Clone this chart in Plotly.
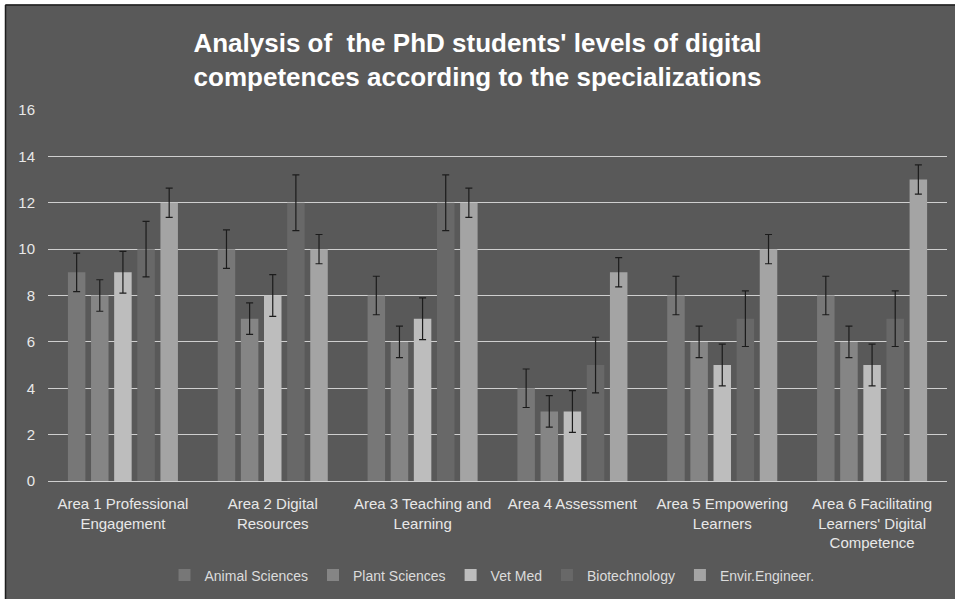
import plotly.graph_objects as go

categories = [
    "Area 1 Professional<br>Engagement",
    "Area 2 Digital<br>Resources",
    "Area 3 Teaching and<br>Learning",
    "Area 4 Assessment",
    "Area 5 Empowering<br>Learners",
    "Area 6 Facilitating<br>Learners' Digital<br>Competence",
]
series_names = ["Animal Sciences", "Plant Sciences", "Vet Med", "Biotechnology", "Envir.Engineer."]
animal_sciences = [9, 10, 8, 4, 8, 8]
plant_sciences = [8, 7, 6, 3, 6, 6]
vet_med = [9, 8, 7, 3, 5, 5]
biotechnology = [10, 12, 12, 5, 7, 7]
envir_engineer = [12, 10, 12, 9, 10, 13]
err_animal = [0.83, 0.83, 0.83, 0.83, 0.83, 0.83]
err_plant = [0.68, 0.68, 0.68, 0.68, 0.68, 0.68]
err_vet = [0.9, 0.9, 0.9, 0.9, 0.9, 0.9]
err_biotech = [1.2, 1.2, 1.2, 1.2, 1.2, 1.2]
err_envir = [0.63, 0.63, 0.63, 0.63, 0.63, 0.63]
y_ticks = [0, 2, 4, 6, 8, 10, 12, 14, 16]

values = [animal_sciences, plant_sciences, vet_med, biotechnology, envir_engineer]
errors = [err_animal, err_plant, err_vet, err_biotech, err_envir]
colors = ["#777777", "#858585", "#bdbdbd", "#686868", "#a4a4a4"]

W, H = 955, 599
L, R, T, B = 48, 8, 110, 116
pw, ph = W - L - R, H - T - B

def px_x(p):
    return (p - L) / pw

def px_y(q):
    return (H - B - q) / ph

FONT = "Liberation Sans, Arial, sans-serif"

fig = go.Figure()
for name, vals, err, col in zip(series_names, values, errors, colors):
    fig.add_trace(go.Bar(
        x=categories, y=vals, name=name, marker=dict(color=col, line=dict(width=0)),
        error_y=dict(type="data", array=err, visible=True, color="#1c1c1c", thickness=1.2, width=3.5),
    ))

fig.update_layout(
    width=W, height=H,
    margin=dict(l=L, r=R, t=T, b=B),
    paper_bgcolor="#595959",
    plot_bgcolor="rgba(0,0,0,0)",
    barmode="group", bargap=0.228, bargroupgap=0.243,
    title=dict(
        text="<b>Analysis of  the PhD students' levels of digital<br>competences according to the specializations</b>",
        x=0.5, xanchor="center", xref="container",
        y=1 - 52 / H, yanchor="middle", yref="container",
        font=dict(family=FONT, size=26, color="#ffffff"),
    ),
    xaxis=dict(
        showgrid=False, showline=False, zeroline=False, ticks="",
        tickfont=dict(family=FONT, size=15, color="#e8e8e8"),
        tickangle=0, ticklabelstandoff=12,
    ),
    yaxis=dict(
        range=[0, 16], tickvals=y_ticks, showgrid=True, gridcolor="#cfcfcf", gridwidth=1.2,
        zeroline=True, zerolinecolor="#cfcfcf", zerolinewidth=1.2,
        showline=False, ticks="", ticklabelstandoff=12,
        tickfont=dict(family=FONT, size=15, color="#e8e8e8"),
    ),
    legend=dict(
        orientation="h", x=px_x(492), xanchor="center", y=px_y(578), yanchor="middle",
        font=dict(family=FONT, size=14, color="#dcdcdc"), itemwidth=30,
        bgcolor="rgba(0,0,0,0)", traceorder="normal",
    ),
    shapes=[
        dict(type="rect", xref="paper", yref="paper", layer="above",
             x0=px_x(-5), x1=px_x(5), y0=px_y(H + 5), y1=px_y(-5),
             fillcolor="#ffffff", line=dict(width=0)),
        dict(type="rect", xref="paper", yref="paper", layer="above",
             x0=px_x(-5), x1=px_x(W + 5), y0=px_y(4), y1=px_y(-5),
             fillcolor="#ffffff", line=dict(width=0)),
        dict(type="line", xref="paper", yref="paper", layer="above",
             x0=px_x(5.5), x1=px_x(5.5), y0=px_y(H + 5), y1=px_y(4.5),
             line=dict(color="#1e1e1e", width=1.5)),
        dict(type="line", xref="paper", yref="paper", layer="above",
             x0=px_x(5.5), x1=px_x(W + 5), y0=px_y(4.5), y1=px_y(4.5),
             line=dict(color="#1e1e1e", width=1.5)),
    ],
)

fig.write_html(
    "out.html",
    config={"displayModeBar": False},
    post_script="document.body.style.margin='0';document.body.style.overflow='hidden';",
)
